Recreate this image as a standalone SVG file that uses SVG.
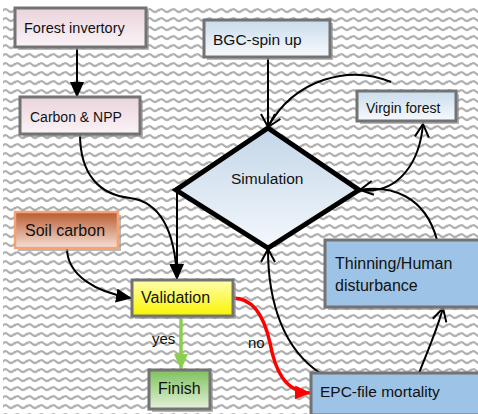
<svg xmlns="http://www.w3.org/2000/svg" width="478" height="414" viewBox="0 0 478 414">
<defs>
<pattern id="wave" width="12" height="9" patternUnits="userSpaceOnUse" x="3" y="6">
<path d="M-1,5.5 Q2,1.5 5,4.5 T11,4.5 T17,4.5" fill="none" stroke="#b0b0b0" stroke-width="2.2"/>
</pattern>
<linearGradient id="pink" x1="0" y1="0" x2="0" y2="1"><stop offset="0" stop-color="#ead3dc"/><stop offset="1" stop-color="#fbf4f7"/></linearGradient>
<linearGradient id="blue" x1="0" y1="0" x2="0" y2="1"><stop offset="0" stop-color="#c9dcec"/><stop offset="1" stop-color="#f7fafd"/></linearGradient>
<linearGradient id="orange" x1="0" y1="0" x2="0" y2="1"><stop offset="0" stop-color="#b85a30"/><stop offset="1" stop-color="#f6e0d6"/></linearGradient>
<linearGradient id="yellow" x1="0" y1="0" x2="0" y2="1"><stop offset="0" stop-color="#ffffb0"/><stop offset="1" stop-color="#f8f400"/></linearGradient>
<linearGradient id="green" x1="0" y1="0" x2="0" y2="1"><stop offset="0" stop-color="#7fc05c"/><stop offset="1" stop-color="#e4f2dc"/></linearGradient>
<linearGradient id="diam" x1="0" y1="0" x2="0" y2="1"><stop offset="0" stop-color="#c3d6e8"/><stop offset="1" stop-color="#f4f8fc"/></linearGradient>
<marker id="fill" viewBox="0 0 16 14" refX="15" refY="7" markerWidth="16" markerHeight="14" markerUnits="userSpaceOnUse" orient="auto">
<path d="M0,0 L16,7 L0,14 Z" fill="#000"/>
</marker>
<marker id="fillr" viewBox="0 0 16 14" refX="15" refY="7" markerWidth="16" markerHeight="14" markerUnits="userSpaceOnUse" orient="auto">
<path d="M0,0 L16,7 L0,14 Z" fill="#ff0000"/>
</marker>
<marker id="fillg" viewBox="0 0 16 14" refX="15" refY="7" markerWidth="16" markerHeight="14" markerUnits="userSpaceOnUse" orient="auto">
<path d="M0,0 L16,7 L0,14 Z" fill="#8ccf50"/>
</marker>
<marker id="open" viewBox="-2 -2 18 18" refX="13" refY="7" markerWidth="18" markerHeight="18" markerUnits="userSpaceOnUse" orient="auto">
<path d="M0,0 L13,7 L0,14" fill="none" stroke="#000" stroke-width="2"/>
</marker>
</defs>
<style>
.box{stroke:#737373;stroke-width:3}
.sh{fill:#9a9a9a;opacity:0.7}
.t{font-family:"Liberation Sans",Arial,sans-serif;fill:#111}
.c{fill:none;stroke:#000;stroke-width:2}
</style>
<rect x="3" y="6" width="475" height="408" fill="#ffffff"/>
<rect x="3" y="6" width="475" height="408" fill="url(#wave)"/>

<g id="connectors">
<path class="c" d="M77,47 L77,97" marker-end="url(#fill)"/>
<path class="c" d="M80,134 C80,175 100,195 130,198 C160,202 175,230 177,279" marker-end="url(#fill)"/>
<path class="c" d="M177,190 L177,279" marker-end="url(#fill)"/>
<path class="c" d="M67,248 C67,275 95,292 131,298" marker-end="url(#fill)"/>
<path class="c" d="M268,57 L268,127" marker-end="url(#open)"/>
<path class="c" d="M391,82 C350,65 295,78 268,127" marker-end="url(#open)"/>
<path class="c" d="M360,190 C400,195 420,160 423,124" marker-end="url(#open)"/>
<path class="c" d="M437,240 C425,195 390,185 360,190" marker-end="url(#open)"/>
<path class="c" d="M320,373 C285,350 268,305 268,249" marker-end="url(#open)"/>
<path class="c" d="M419,373 C428,350 437,330 443,308" marker-end="url(#open)"/>
<path d="M233,298 C255,298 265,320 270,343 C275,370 285,392 310,393" fill="none" stroke="#ff0000" stroke-width="3.5" marker-end="url(#fillr)"/>
<path d="M181,316 L181,369" fill="none" stroke="#8ccf50" stroke-width="3.5" marker-end="url(#fillg)"/>
<text class="t" x="152" y="344" font-size="15">yes</text>
<text class="t" x="248" y="348" font-size="15">no</text>
</g>

<g id="forest-inventory">
<rect class="sh" x="18" y="11" width="131" height="39"/>
<rect class="box" x="15" y="8" width="131" height="39" fill="url(#pink)"/>
<text class="t" x="24" y="33" font-size="14.5">Forest invertory</text>
</g>
<g id="carbon-npp">
<rect class="sh" x="23" y="100" width="120" height="37"/>
<rect class="box" x="20" y="97" width="120" height="37" fill="url(#pink)"/>
<text class="t" x="30" y="122" font-size="14">Carbon &amp; NPP</text>
</g>
<g id="bgc-spin-up">
<rect class="sh" x="207" y="23" width="126" height="37"/>
<rect class="box" x="204" y="20" width="126" height="37" fill="url(#blue)"/>
<text class="t" x="213" y="45" font-size="15.5">BGC-spin up</text>
</g>
<g id="virgin-forest">
<rect class="sh" x="360" y="94" width="99" height="30"/>
<rect class="box" x="357" y="91" width="99" height="30" fill="url(#blue)"/>
<text class="t" x="366" y="113" font-size="14">Virgin forest</text>
</g>
<g id="simulation">
<polygon points="268,128 359,190 268,248 176,190" fill="url(#diam)" stroke="#000" stroke-width="5" stroke-linejoin="miter"/>
<text class="t" x="231" y="184" font-size="15.5">Simulation</text>
</g>
<g id="soil-carbon">
<rect class="sh" x="18" y="215" width="103" height="36"/>
<rect x="15" y="212" width="103" height="36" fill="url(#orange)" stroke="#f2a477" stroke-width="2.5"/>
<text class="t" x="25" y="236" font-size="16">Soil carbon</text>
</g>
<g id="validation">
<rect class="sh" x="135" y="283" width="101" height="36"/>
<rect class="box" x="132" y="280" width="101" height="36" fill="url(#yellow)"/>
<text class="t" x="141" y="303" font-size="16">Validation</text>
</g>
<g id="finish">
<rect class="sh" x="152" y="373" width="61" height="39"/>
<rect class="box" x="149" y="370" width="61" height="39" fill="url(#green)"/>
<text class="t" x="158" y="394" font-size="16">Finish</text>
</g>
<g id="thinning">
<rect class="sh" x="328" y="243" width="152" height="67"/>
<rect class="box" x="325" y="240" width="155" height="67" fill="#9dc3e6"/>
<text class="t" x="335" y="269" font-size="16">Thinning/Human</text>
<text class="t" x="335" y="291" font-size="16">disturbance</text>
</g>
<g id="epc-mortality">
<rect class="box" x="311" y="373" width="170" height="42" fill="#9dc3e6"/>
<text class="t" x="320" y="397" font-size="15.5">EPC-file mortality</text>
</g>
</svg>
